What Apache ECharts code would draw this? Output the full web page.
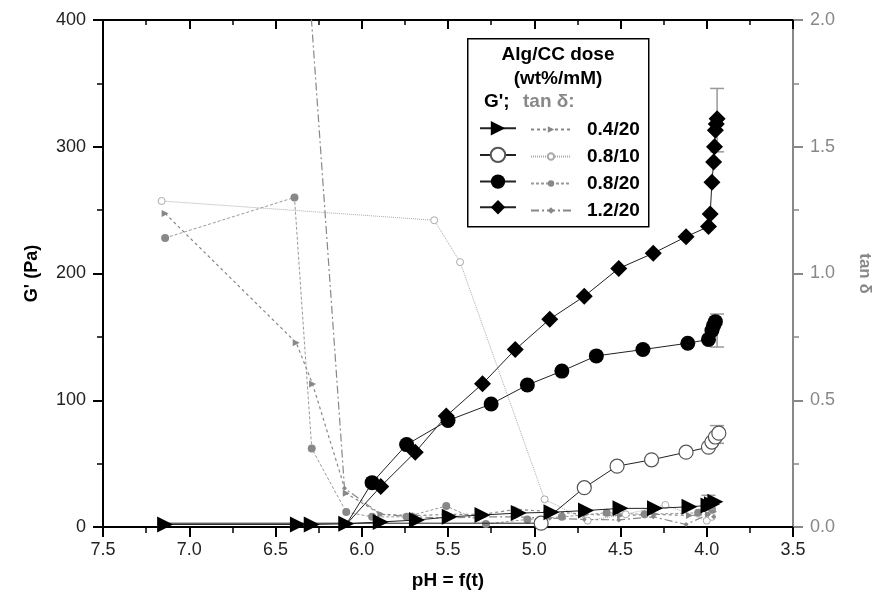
<!DOCTYPE html>
<html>
<head>
<meta charset="utf-8">
<script src="https://cdn.jsdelivr.net/npm/echarts@6/dist/echarts.min.js"></script>
<style>html,body{margin:0;padding:0;background:#fff}#c{width:877px;height:595px}</style>
</head>
<body>
<div id="c"></div>
<script>
// ---- data (pH, G' in Pa) ----
const sampleNames = ['0.4/20', '0.8/10', '0.8/20', '1.2/20'];

const g04_20_pH = [7.14, 6.37, 6.29, 6.09, 5.89, 5.68, 5.49, 5.30, 5.09, 4.90, 4.70, 4.50, 4.30, 4.10, 3.99, 3.97, 3.95];
const g04_20_G  = [2, 2, 2, 2.5, 4, 5.5, 8, 9.5, 11, 11.6, 13, 14.7, 14.7, 16, 17, 18, 20];

const g08_10_pH = [7.14, 6.09, 4.96, 4.71, 4.52, 4.32, 4.12, 3.99, 3.97, 3.95, 3.93];
const g08_10_G  = [3, 3, 3, 31, 48, 53, 59, 63, 67, 71, 74];

const g08_20_pH = [6.09, 5.94, 5.74, 5.50, 5.25, 5.04, 4.84, 4.64, 4.37, 4.11, 3.99, 3.97, 3.96, 3.95];
const g08_20_G  = [2, 35, 65, 84, 97, 112, 123, 135, 140, 145, 148, 155, 159, 162];

const g12_20_pH = [6.09, 5.89, 5.69, 5.51, 5.30, 5.11, 4.91, 4.71, 4.51, 4.31, 4.12, 3.99, 3.98, 3.97, 3.96, 3.955, 3.95, 3.945, 3.94];
const g12_20_G  = [2, 32, 59, 87.5, 113, 140, 164, 182, 204, 216, 229, 237, 247, 272, 288, 300, 313, 318, 322];

// ---- data (pH, tan delta) ----
const t04_20_pH = [7.14, 6.38, 6.285, 6.09, 5.89, 5.69, 5.49, 5.30, 5.10, 4.90, 4.70, 4.50, 4.30, 4.10, 3.99, 3.96];
const t04_20_T  = [1.237, 0.727, 0.564, 0.133, 0.05, 0.045, 0.05, 0.05, 0.07, 0.06, 0.05, 0.045, 0.05, 0.045, 0.05, 0.06];

const t08_10_pH = [7.16, 5.58, 5.43, 4.94, 4.69, 4.47, 4.24, 4.00, 3.97];
const t08_10_T  = [1.286, 1.21, 1.045, 0.109, 0.025, 0.05, 0.087, 0.025, 0.04];

const t08_20_pH = [7.14, 6.39, 6.29, 6.09, 5.94, 5.74, 5.51, 5.28, 5.04, 4.84, 4.58, 4.36, 4.05, 3.97];
const t08_20_T  = [1.14, 1.30, 0.31, 0.059, 0.04, 0.04, 0.083, 0.012, 0.03, 0.04, 0.056, 0.05, 0.056, 0.07];

const t12_20_pH = [6.39, 6.10, 5.89, 5.69, 5.51, 5.30, 5.11, 4.91, 4.71, 4.51, 4.31, 4.12, 3.99, 3.96];
const t12_20_T  = [2.95, 0.153, 0.05, 0.04, 0.035, 0.04, 0.04, 0.035, 0.03, 0.028, 0.04, 0.01, 0.05, 0.04];

// ---- error bars on G' (pH, low, high) ----
const errPH   = [3.94, 3.94, 3.94, 3.99];
const errLow  = [296, 142, 66, 14];
const errHigh = [346, 168, 80, 25];

// points hidden behind other markers in the original (no visible symbol)
const hiddenUntil = { '0.4/20': 0, '0.8/10': 2, '0.8/20': 1, '1.2/20': 1 };

function zip(a, b) { return a.map((v, i) => [v, b[i]]); }
function zipHidden(a, b, n) {
  return a.map((v, i) => i < n ? { value: [v, b[i]], symbol: 'none' } : [v, b[i]]);
}

const FONT = 'Liberation Sans, Arial, sans-serif';
const triRight = 'path://M0,0 L10,5 L0,10 Z';

const gSeries = [
  { data: zipHidden(g08_10_pH, g08_10_G, hiddenUntil['0.8/10']), idx: 1, symbol: 'circle', symbolSize: 14, itemStyle: { color: '#fff', borderColor: '#555', borderWidth: 1.2 } },
  { data: zipHidden(g04_20_pH, g04_20_G, hiddenUntil['0.4/20']), idx: 0, symbol: triRight, symbolSize: 16, itemStyle: { color: '#000' } },
  { data: zipHidden(g08_20_pH, g08_20_G, hiddenUntil['0.8/20']), idx: 2, symbol: 'circle', symbolSize: 15, itemStyle: { color: '#000' } },
  { data: zipHidden(g12_20_pH, g12_20_G, hiddenUntil['1.2/20']), idx: 3, symbol: 'diamond', symbolSize: 17, itemStyle: { color: '#000' } }
].map((s) => {
  const o = Object.assign({
    name: "G' " + sampleNames[s.idx], type: 'line', xAxisIndex: 0, yAxisIndex: 0,
    lineStyle: { color: '#222', width: 1 }, z: 5, animation: false
  }, s);
  delete o.idx;
  return o;
});

const tSeries = [
  { data: zip(t04_20_pH, t04_20_T), symbol: 'triangle', symbolRotate: -90, symbolSize: 7,
    itemStyle: { color: '#888' }, lineStyle: { color: '#888', width: 1.2, type: [3, 3] } },
  { data: zip(t08_10_pH, t08_10_T), symbol: 'circle', symbolSize: 7,
    itemStyle: { color: '#fff', borderColor: '#aaa', borderWidth: 1 }, lineStyle: { color: '#aaa', width: 1, type: [1, 1] } },
  { data: zip(t08_20_pH, t08_20_T), symbol: 'circle', symbolSize: 8,
    itemStyle: { color: '#888' }, lineStyle: { color: '#999', width: 1, type: [3, 2] } },
  { data: zip(t12_20_pH, t12_20_T), symbol: 'diamond', symbolSize: 5,
    itemStyle: { color: '#888' }, lineStyle: { color: '#888', width: 1.2, type: [8, 3, 2, 3] } }
].map((s, i) => Object.assign({
  name: 'tan δ ' + sampleNames[i], type: 'line', xAxisIndex: 0, yAxisIndex: 1, z: 3, animation: false
}, s));

const errSeries = {
  type: 'custom', name: 'err', xAxisIndex: 0, yAxisIndex: 0, z: 4, animation: false,
  data: errPH.map((x, i) => [x, errLow[i], errHigh[i]]),
  renderItem: function (params, api) {
    const lo = api.coord([api.value(0), api.value(1)]);
    const hi = api.coord([api.value(0), api.value(2)]);
    const w = 7;
    const st = { stroke: '#999', lineWidth: 1.5 };
    return { type: 'group', children: [
      { type: 'line', shape: { x1: lo[0], y1: lo[1], x2: hi[0], y2: hi[1] }, style: st },
      { type: 'line', shape: { x1: lo[0] - w, y1: lo[1], x2: lo[0] + w, y2: lo[1] }, style: st },
      { type: 'line', shape: { x1: hi[0] - w, y1: hi[1], x2: hi[0] + w, y2: hi[1] }, style: st }
    ]};
  }
};

const legendOrder = [1, 0, 2, 3].map(i => gSeries[i].name);

const chart = echarts.init(document.getElementById('c'), null, { renderer: 'canvas' });
chart.setOption({
  backgroundColor: '#fff',
  animation: false,
  textStyle: { fontFamily: FONT },
  grid: { left: 103, right: 84, top: 20, bottom: 68, containLabel: false, outerBoundsMode: 'none' },
  xAxis: [{
    type: 'value', min: 3.5, max: 7.5, interval: 0.5, inverse: true, position: 'bottom',
    name: 'pH = f(t)', nameLocation: 'middle', nameGap: 44,
    nameTextStyle: { fontFamily: FONT, fontSize: 19, fontWeight: 'bold', color: '#000' },
    axisLine: { onZero: false, lineStyle: { color: '#000', width: 2 } },
    axisTick: { inside: false, length: 10, lineStyle: { color: '#000', width: 2 } },
    minorTick: { show: true, splitNumber: 2, length: 6, lineStyle: { color: '#000', width: 1.5 } },
    axisLabel: { fontFamily: FONT, fontSize: 18, color: '#222', margin: 14, formatter: v => v.toFixed(1) },
    splitLine: { show: false }
  }, {
    type: 'value', min: 3.5, max: 7.5, interval: 0.5, inverse: true, position: 'top',
    axisLine: { onZero: false, lineStyle: { color: '#000', width: 2 } },
    axisTick: { inside: true, length: 9, lineStyle: { color: '#000', width: 2 } },
    minorTick: { show: true, splitNumber: 2, length: 5, lineStyle: { color: '#000', width: 1.5 } },
    axisLabel: { show: false },
    splitLine: { show: false }
  }],
  yAxis: [{
    type: 'value', min: 0, max: 400, interval: 100, position: 'left',
    name: "G' (Pa)", nameLocation: 'middle', nameGap: 62, nameRotate: 90,
    nameTextStyle: { fontFamily: FONT, fontSize: 18, fontWeight: 'bold', color: '#000' },
    axisLine: { show: true, onZero: false, lineStyle: { color: '#000', width: 2 } },
    axisTick: { show: true, inside: false, length: 10, lineStyle: { color: '#000', width: 2 } },
    minorTick: { show: true, splitNumber: 2, length: 6, lineStyle: { color: '#000', width: 1.5 } },
    axisLabel: { fontFamily: FONT, fontSize: 18, color: '#222', margin: 17 },
    splitLine: { show: false }
  }, {
    type: 'value', min: 0, max: 2, interval: 0.5, position: 'right',
    name: 'tan δ', nameLocation: 'middle', nameGap: 63, nameRotate: -90,
    nameTextStyle: { fontFamily: FONT, fontSize: 17, fontWeight: 'bold', color: '#888' },
    axisLine: { show: true, onZero: false, lineStyle: { color: '#888', width: 2 } },
    axisTick: { show: true, inside: false, length: 10, lineStyle: { color: '#888', width: 2 } },
    minorTick: { show: true, splitNumber: 2, length: 6, lineStyle: { color: '#888', width: 1.5 } },
    axisLabel: { fontFamily: FONT, fontSize: 18, color: '#888', margin: 17, formatter: v => v.toFixed(1) },
    splitLine: { show: false }
  }],
  legend: [{
    data: legendOrder, orient: 'vertical', left: 474, top: 116,
    itemWidth: 36, itemHeight: 18, itemGap: 11.3, selectedMode: false,
    formatter: () => '', textStyle: { fontSize: 18, lineHeight: 18 }
  }, {
    data: tSeries.map(s => s.name), orient: 'vertical', left: 525, top: 115,
    itemWidth: 40, itemHeight: 8, itemGap: 8, selectedMode: false,
    formatter: name => '{a|' + name.replace('tan δ ', '') + '}',
    textStyle: { fontFamily: FONT, fontSize: 19, fontWeight: 'bold', color: '#000', lineHeight: 18,
      rich: { a: { fontFamily: FONT, fontSize: 19, fontWeight: 'bold', color: '#000', padding: [0, 0, 0, 11] } } }
  }],
  graphic: [
    { type: 'rect', left: 467, top: 38, shape: { width: 181, height: 188 }, style: { fill: '#fff', stroke: '#000', lineWidth: 1.5 }, z: 0, silent: true },
    { type: 'text', x: 558, y: 55, style: { text: 'Alg/CC dose', font: 'bold 19px ' + FONT, fill: '#000', align: 'center', verticalAlign: 'middle' }, z: 1 },
    { type: 'text', x: 558, y: 79, style: { text: '(wt%/mM)', font: 'bold 19px ' + FONT, fill: '#000', align: 'center', verticalAlign: 'middle' }, z: 1 },
    { type: 'text', x: 484, y: 102, style: { text: "G';", font: 'bold 19px ' + FONT, fill: '#000', verticalAlign: 'middle' }, z: 1 },
    { type: 'text', x: 523, y: 102, style: { text: 'tan δ:', font: 'bold 19px ' + FONT, fill: '#888', verticalAlign: 'middle' }, z: 1 }
  ],
  series: [...tSeries, errSeries, ...gSeries]
});
</script>
</body>
</html>
